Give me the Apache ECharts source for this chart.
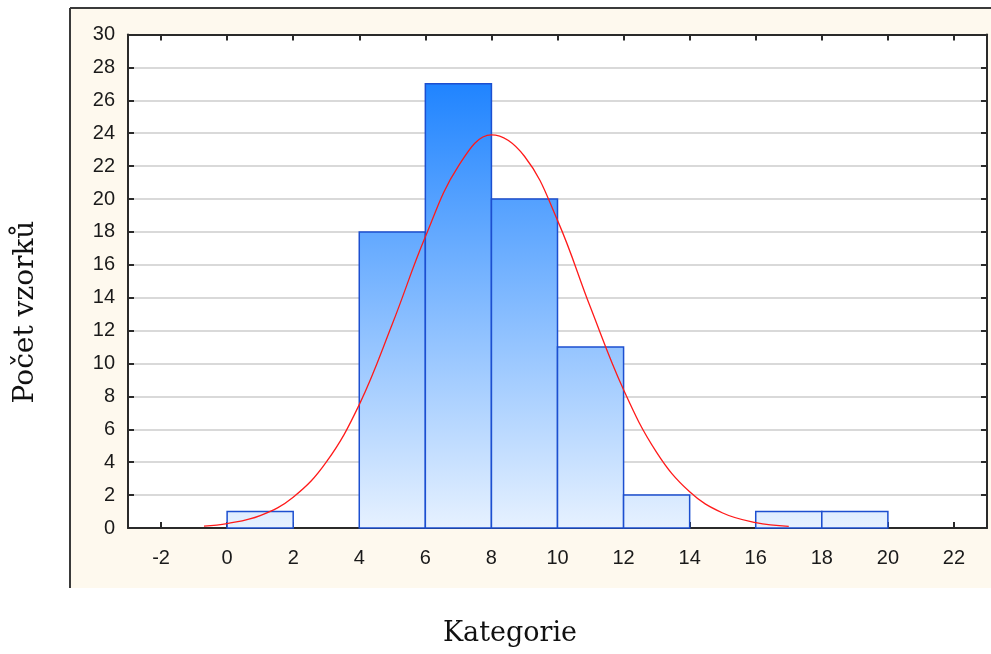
<!DOCTYPE html>
<html><head><meta charset="utf-8">
<script src="https://cdn.jsdelivr.net/npm/echarts@6/dist/echarts.min.js"></script>
<style>html,body{margin:0;padding:0;background:#fff}#c{width:991px;height:654px}</style>
</head><body><div id="c"></div>
<script>
// Histogram bins: [from, to, count]
const binStart = [0, 4, 6, 8, 10, 12, 16, 18];
const binEnd   = [2, 6, 8, 10, 12, 14, 18, 20];
const binCount = [1, 18, 27, 20, 11, 2, 1, 1];
// Fitted normal curve
const curveX = [-0.7, 0, 1, 2, 3, 4, 5, 6, 7, 8, 9, 10, 11, 12, 13, 14, 15, 16, 17];
const curveY = [0.12, 0.27, 0.75, 1.87, 4.0, 7.5, 12.4, 17.7, 22.0, 23.9, 22.6, 18.7, 13.4, 8.4, 4.6, 2.2, 0.91, 0.33, 0.1];
const xTicks = [-2, 0, 2, 4, 6, 8, 10, 12, 14, 16, 18, 20, 22];
const yTicks = [0, 2, 4, 6, 8, 10, 12, 14, 16, 18, 20, 22, 24, 26, 28, 30];
const xTitle = 'Kategorie';
const yTitle = 'Počet vzorků';

const chart = echarts.init(document.getElementById('c'), null, {renderer: 'canvas'});
const barData = binStart.map((s, i) => [s, binEnd[i], binCount[i]]);
const curveData = curveX.map((x, i) => [x, curveY[i]]);
const gridTop = 34.5, gridBottomPx = 528;
const barFill = new echarts.graphic.LinearGradient(0, gridTop, 0, gridBottomPx, [
  {offset: 0, color: '#0a78ff'},
  {offset: 1, color: '#e6f1ff'}
], true);
const lbl = {fontFamily: 'Liberation Sans', fontSize: 20, color: '#1a1a1a'};
const lineStyle = {color: '#2a2a2a', width: 2};
chart.setOption({
  animation: false,
  backgroundColor: '#ffffff',
  graphic: [
    {type: 'rect', shape: {x: 70, y: 8, width: 925, height: 580}, style: {fill: '#fef9ee', stroke: null}, z: -10, silent: true},
    {type: 'line', shape: {x1: 70, y1: 8, x2: 991, y2: 8}, style: {stroke: '#3a3a3a', lineWidth: 2}, z: -9},
    {type: 'line', shape: {x1: 70, y1: 8, x2: 70, y2: 588}, style: {stroke: '#3a3a3a', lineWidth: 2}, z: -9},
    {type: 'text', x: 510, y: 634, style: {text: xTitle, fontFamily: 'DejaVu Serif', fontSize: 27, fill: '#111', align: 'center', verticalAlign: 'middle'}},
    {type: 'text', x: 26, y: 312, rotation: Math.PI / 2, style: {text: yTitle, fontFamily: 'DejaVu Serif', fontSize: 28, fill: '#111', align: 'center', verticalAlign: 'middle'}}
  ],
  grid: {left: 128, top: gridTop, right: 4, bottom: 654 - gridBottomPx, show: true, backgroundColor: '#ffffff', borderWidth: 0},
  xAxis: [
    {type: 'value', min: -3, max: 23, interval: 2, position: 'bottom',
      axisLine: {show: true, onZero: false, lineStyle}, axisTick: {show: true, inside: true, length: 6, lineStyle, customValues: xTicks},
      axisLabel: Object.assign({margin: 20, customValues: xTicks}, lbl), splitLine: {show: false}},
    {type: 'value', min: -3, max: 23, interval: 2, position: 'top',
      axisLine: {show: true, onZero: false, lineStyle}, axisTick: {show: true, inside: true, length: 6, lineStyle, customValues: xTicks},
      axisLabel: {show: false}, splitLine: {show: false}}
  ],
  yAxis: [
    {type: 'value', min: 0, max: 30, interval: 2, position: 'left',
      axisLine: {show: true, onZero: false, lineStyle}, axisTick: {show: true, inside: true, length: 6, lineStyle},
      axisLabel: Object.assign({margin: 13}, lbl),
      splitLine: {show: true, lineStyle: {color: '#d9d9d9', width: 2}}},
    {type: 'value', min: 0, max: 30, interval: 2, position: 'right',
      axisLine: {show: true, onZero: false, lineStyle}, axisTick: {show: true, inside: true, length: 6, lineStyle},
      axisLabel: {show: false}, splitLine: {show: false}}
  ],
  series: [
    {type: 'custom', xAxisIndex: 0, yAxisIndex: 0, data: barData,
      renderItem: function (params, api) {
        const p0 = api.coord([api.value(0), api.value(2)]);
        const p1 = api.coord([api.value(1), 0]);
        return {type: 'rect', shape: {x: p0[0], y: p0[1], width: p1[0] - p0[0], height: p1[1] - p0[1]},
          style: {fill: barFill, stroke: '#1c4fd0', lineWidth: 1.5}};
      }, z: 2},
    {type: 'line', xAxisIndex: 0, yAxisIndex: 0, data: curveData, smooth: 0.4, showSymbol: false,
      lineStyle: {color: '#ff1a1a', width: 1.3}, z: 3}
  ]
});
</script></body></html>
